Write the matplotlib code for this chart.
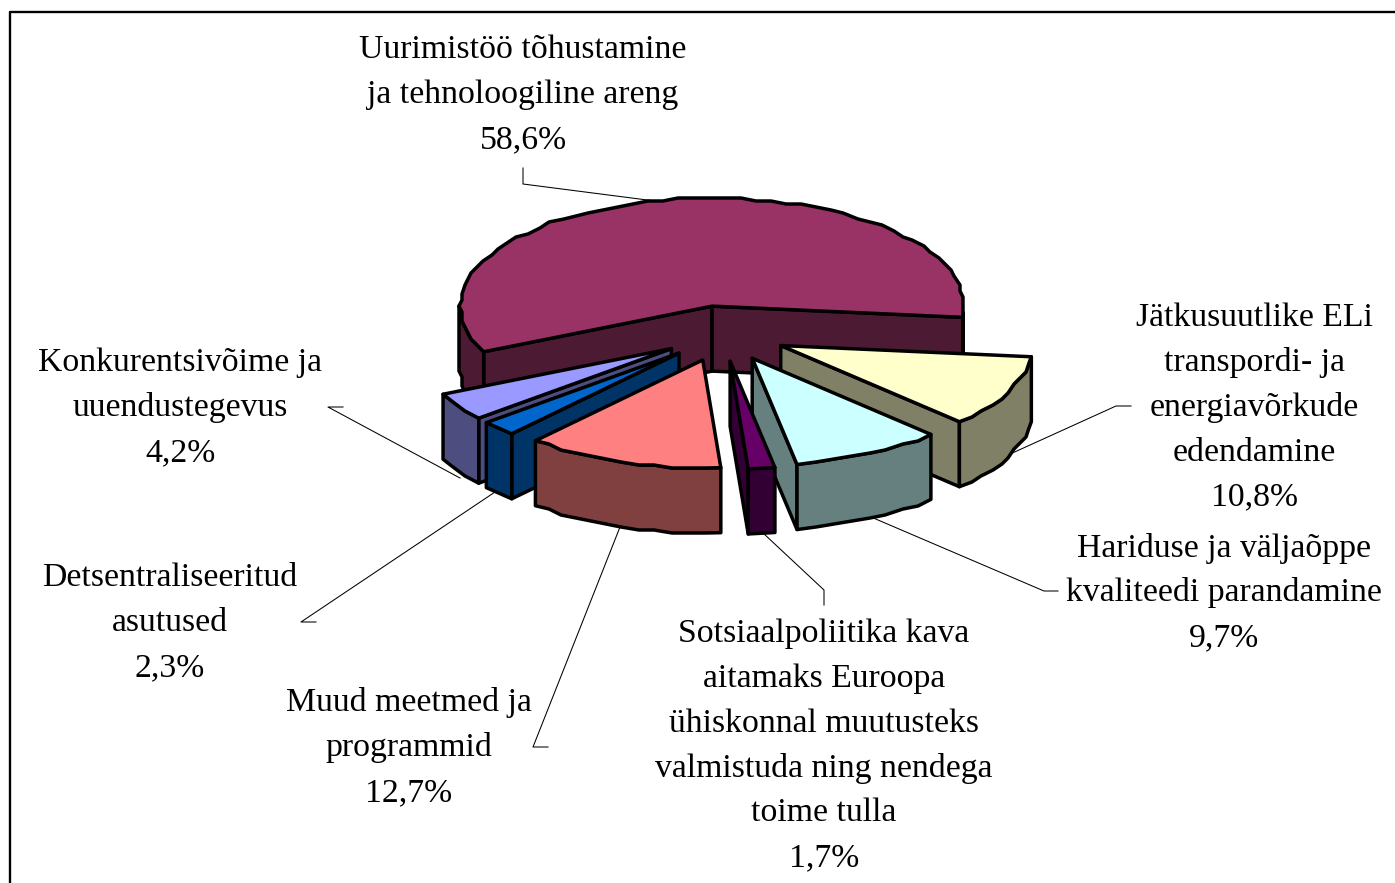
import numpy as np
import matplotlib
matplotlib.use('Agg')
import matplotlib.pyplot as plt
from matplotlib.patches import Polygon

# data: share of budget by heading, clockwise from the large slice
names = [['Uurimistöö tõhustamine', 'ja tehnoloogiline areng'],
         ['Jätkusuutlike ELi', 'transpordi- ja', 'energiavõrkude', 'edendamine'],
         ['Hariduse ja väljaõppe', 'kvaliteedi parandamine'],
         ['Sotsiaalpoliitika kava', 'aitamaks Euroopa', 'ühiskonnal muutusteks',
          'valmistuda ning nendega', 'toime tulla'],
         ['Muud meetmed ja', 'programmid'],
         ['Detsentraliseeritud', 'asutused'],
         ['Konkurentsivõime ja', 'uuendustegevus']]
shares = [58.6, 10.8, 9.7, 1.7, 12.7, 2.3, 4.2]
top_colors = ['#993366', '#FFFFCC', '#CCFFFF', '#660066', '#FF8080', '#0066CC', '#9999FF']
side_colors = ['#4D1A33', '#808066', '#668080', '#330033', '#804040', '#003366', '#4D4D80']

# label anchor (centre x, first line y) and leader line, in picture pixels
label_pos = [(523, 50), (1254, 318), (1224, 548), (824, 634), (409, 703), (170, 578), (180, 363)]
leaders = [[(523, 168), (523, 184), (655, 201)],
           [(1131, 406), (1116, 406), (1008, 455)],
           [(1058, 591), (1044, 591), (871, 517)],
           [(824, 605), (824, 590), (763, 533)],
           [(548, 747), (533, 747), (620, 527)],
           [(316, 622), (301, 622), (498, 490)],
           [(343, 407), (328, 407), (460, 478)]]

# pie geometry
cx, cy = 722, 333.6
rx, ry = 252, 108
depth = 65
explode = 65
left_pull = 5      # left hand slices sit a bit closer in the source
start_angle = 205.0
line_step = 44.8
edge_w = 2.5


def snap(pts, gx=3.0, gy=3.0):
    # the source is a low resolution metafile, rim points land on a coarse grid
    out = pts.copy()
    out[:, 0] = np.round(pts[:, 0] / gx) * gx
    out[:, 1] = np.round(pts[:, 1] / gy) * gy
    out[0], out[-1] = pts[0], pts[-1]
    return out


def rim(ax0, ay0, a, b):
    n = max(int(abs(a - b) / 3.5), 2)
    t = np.radians(np.linspace(a, b, n))
    return snap(np.column_stack([ax0 + rx * np.cos(t), ay0 - ry * np.sin(t)]))


fig = plt.figure(figsize=(13.95, 8.83), dpi=100)
ax = fig.add_axes([0, 0, 1, 1])
ax.set_xlim(0, 1395)
ax.set_ylim(883, 0)
ax.axis('off')

# frame, runs off the right and bottom of the picture
ax.plot([10, 10, 1400], [890, 12, 12], color='black', lw=1.7, solid_capstyle='butt', zorder=1)

for seg in leaders:
    xs, ys = zip(*seg)
    ax.plot(xs, ys, color='black', lw=0.75, zorder=1)

angles = start_angle - np.cumsum([0] + shares) * 3.6
slices = []
for i in range(len(shares)):
    a, b = angles[i], angles[i + 1]
    mid = np.radians((a + b) / 2)
    slices.append((np.sin(mid), i, a, b, mid))

# back to front
z = 2
for s, i, a, b, mid in sorted(slices, reverse=True):
    px = cx + explode * np.cos(mid) + left_pull * max(0, -np.cos(mid))
    py = cy - explode * (ry / rx) * np.sin(mid)
    arc = rim(px, py, a, b)
    down = np.array([0, depth])
    apex = np.array([px, py])
    style = dict(edgecolor='black', lw=edge_w, joinstyle='round', zorder=z)
    z += 1

    # cut faces that look toward the viewer
    if np.cos(np.radians(a)) < 0:
        ax.add_patch(Polygon([apex, arc[0], arc[0] + down, apex + down], facecolor=side_colors[i], **style))
    if np.cos(np.radians(b)) > 0:
        ax.add_patch(Polygon([apex, arc[-1], arc[-1] + down, apex + down], facecolor=side_colors[i], **style))

    # outer wall, only the front part of the rim (the big slice has two pieces)
    t = np.radians(np.linspace(a, b, len(arc)))
    idx = np.where(np.sin(t) <= 0.02)[0]
    if len(idx) > 1:
        for piece in np.split(idx, np.where(np.diff(idx) > 1)[0] + 1):
            if len(piece) > 1:
                wall = np.vstack([arc[piece], arc[piece][::-1] + down])
                ax.add_patch(Polygon(wall, facecolor=side_colors[i], **style))

    ax.add_patch(Polygon(np.vstack([apex, arc]), facecolor=top_colors[i], **style))

for i in range(len(shares)):
    lines = names[i] + [f'{shares[i]:.1f}%'.replace('.', ',')]
    x0, y0 = label_pos[i]
    for k, line in enumerate(lines):
        ax.text(x0, y0 + k * line_step, line, ha='center', va='center', fontsize=24.3,
                family='Liberation Serif', color='black', zorder=50)

fig.savefig('out.png', dpi=100, facecolor='white')
